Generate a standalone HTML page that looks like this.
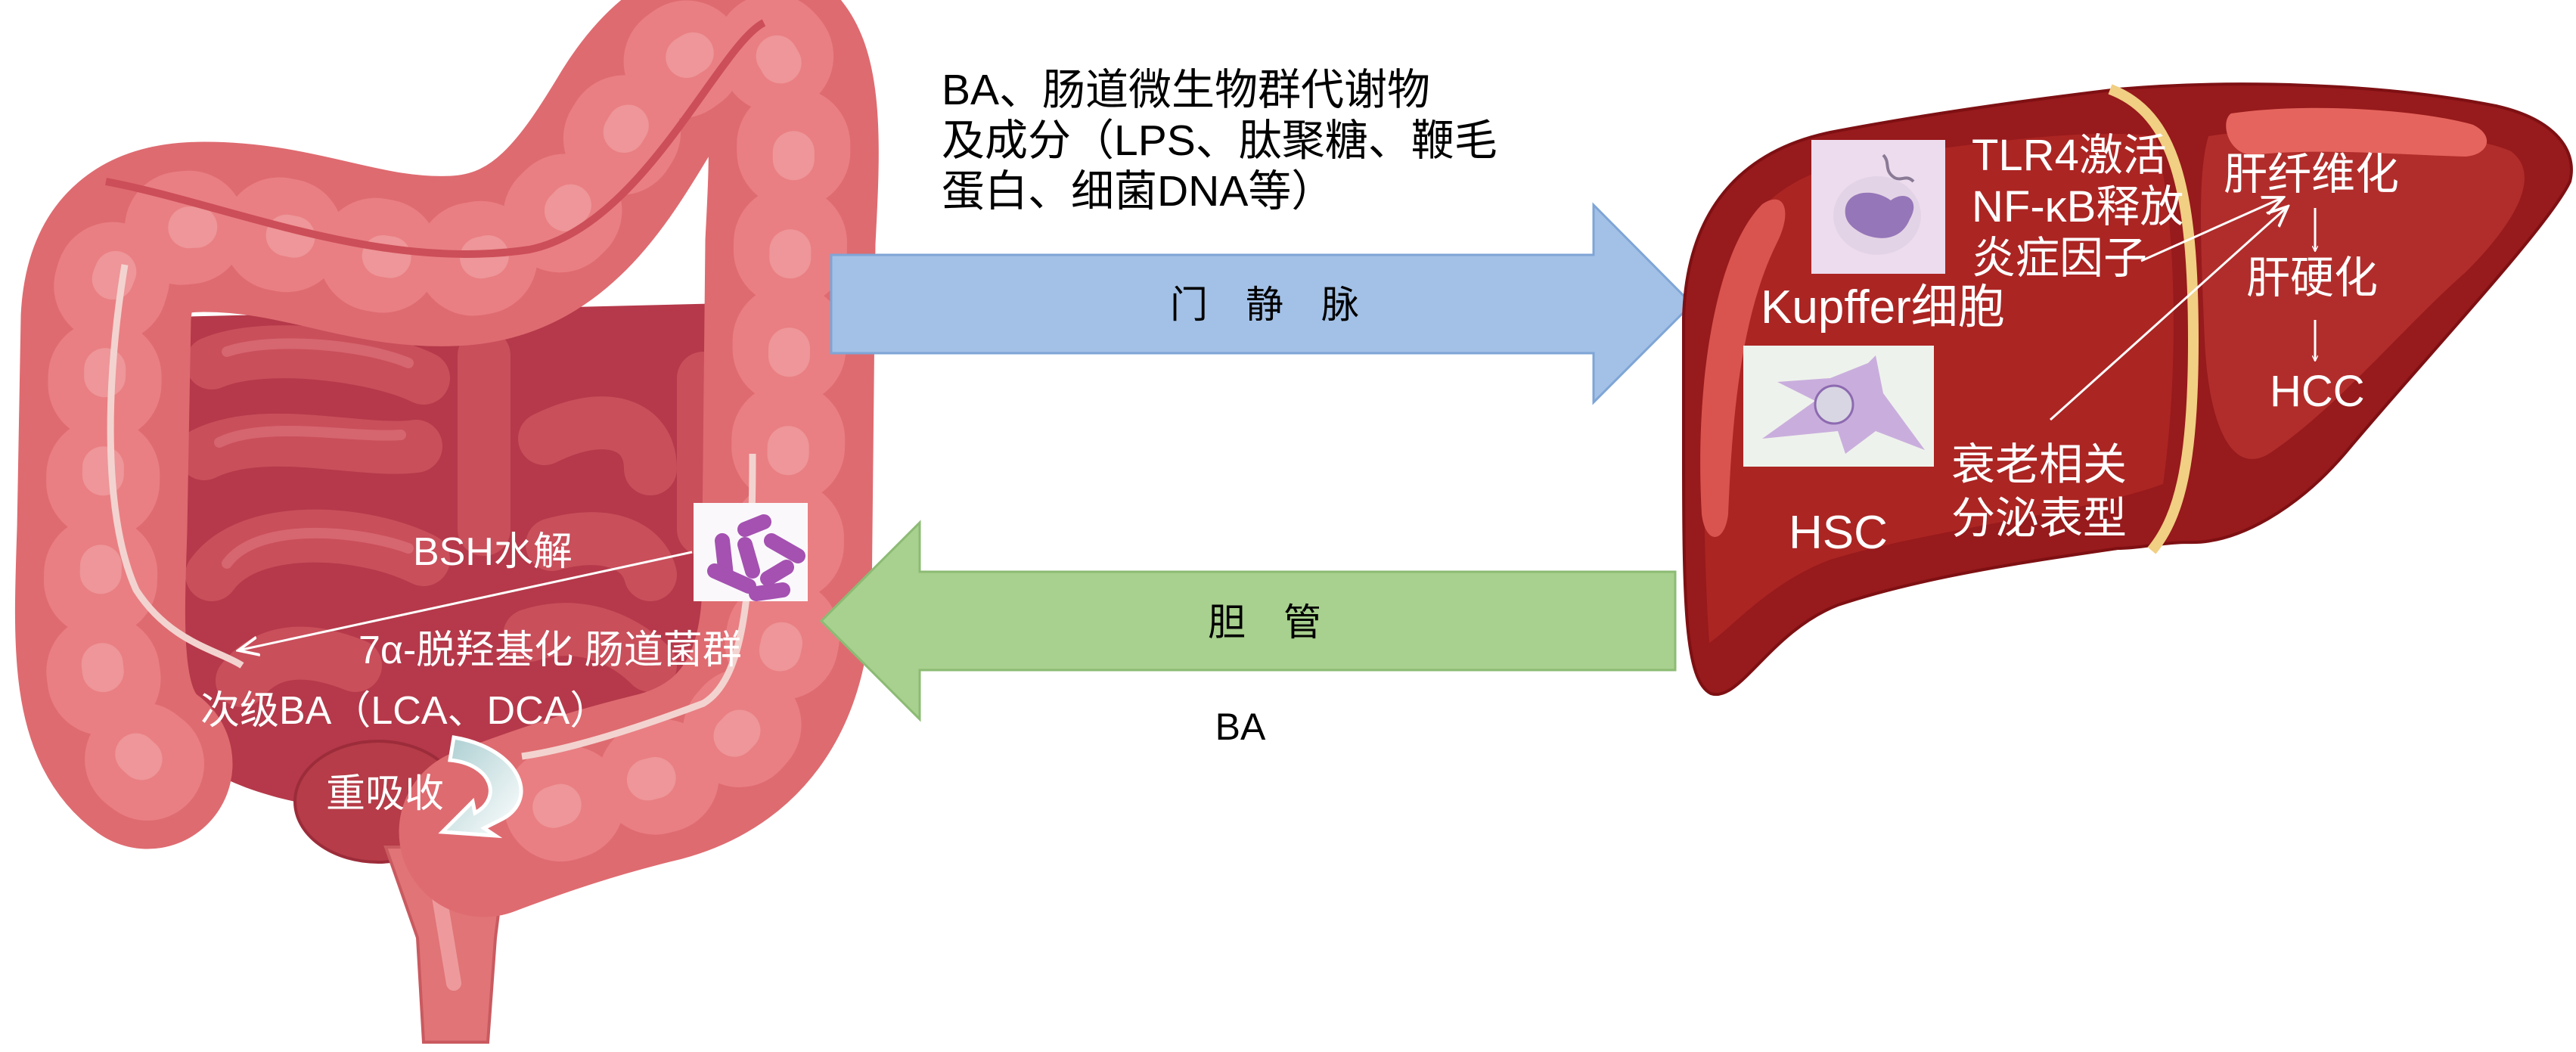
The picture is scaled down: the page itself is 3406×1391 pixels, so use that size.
<!DOCTYPE html>
<html><head><meta charset="utf-8">
<style>
html,body{margin:0;padding:0;background:#fff;}
svg{display:block;}
text{font-family:"Liberation Sans","Noto Sans CJK SC",sans-serif;}
</style></head>
<body>
<svg width="3406" height="1391" viewBox="0 0 3406 1391" xmlns="http://www.w3.org/2000/svg">
<defs>
<marker id="ah" viewBox="0 0 10 10" refX="9" refY="5" markerWidth="8" markerHeight="8" orient="auto-start-reverse" markerUnits="userSpaceOnUse">
<path d="M0,0 L10,5 L0,10" fill="none" stroke="#fff" stroke-width="1.6"/>
</marker>
<marker id="ah2" viewBox="0 0 20 20" refX="18" refY="10" markerWidth="30" markerHeight="30" orient="auto" markerUnits="userSpaceOnUse">
<path d="M0,2 L18,10 L0,18" fill="none" stroke="#fff" stroke-width="2.5"/>
</marker>
<linearGradient id="rg" x1="0" y1="0" x2="1" y2="1">
<stop offset="0" stop-color="#a9cdd0"/><stop offset="1" stop-color="#ffffff"/>
</linearGradient>
</defs>

<!-- ===== INTESTINE ===== -->
<path d="M190 420 L1000 400 L1010 1000 C900 1080 700 1110 600 1130 C480 1150 400 1120 390 1060 C300 1040 210 1000 190 900 Z" fill="#b5394a"/>
<ellipse cx="500" cy="1060" rx="110" ry="80" fill="#b53c48" stroke="#9c2c3a" stroke-width="4"/>
<g fill="none" stroke="#c94f5b" stroke-width="70" stroke-linecap="round">
<path d="M280 480 C350 450 500 470 560 500"/>
<path d="M270 600 C350 560 480 600 550 590"/>
<path d="M280 760 C330 690 480 700 560 740"/>
<path d="M720 580 C800 540 860 560 860 620"/>
<path d="M730 720 C800 700 850 720 860 760"/>
<path d="M930 500 L930 700"/>
<path d="M640 470 L640 700"/>
<path d="M320 900 C360 850 420 860 470 880"/>
<path d="M700 840 C760 820 820 840 860 880"/>
</g>
<g fill="none" stroke="#d96b74" stroke-width="14" stroke-linecap="round" opacity="0.8">
<path d="M300 465 C360 445 480 455 540 480"/>
<path d="M290 585 C350 555 470 580 530 575"/>
<path d="M300 745 C340 690 470 700 540 725"/>
</g>
<!-- rectum -->
<path d="M510 1120 L670 1120 L655 1240 L645 1378 L560 1378 L552 1240 Z" fill="#e07476" stroke="#c95a60" stroke-width="4"/>
<path d="M575 1150 L600 1300" stroke="#ee9a9d" stroke-width="20" stroke-linecap="round"/>
<!-- colon -->
<g fill="none" stroke-linejoin="round">
<path id="colon" d="M195 1010 C125 960 130 850 135 700 L140 420 C145 330 190 300 270 300 C400 300 480 350 600 345 C720 340 780 250 840 150 C890 70 950 40 1010 60 C1060 80 1050 220 1045 320 L1040 800 C1030 950 950 1010 860 1030 C780 1050 720 1070 640 1100" stroke="#de6b70" stroke-width="225" stroke-linecap="round"/>
<path d="M195 1010 C125 960 130 850 135 700 L140 420 C145 330 190 300 270 300 C400 300 480 350 600 345 C720 340 780 250 840 150 C890 70 950 40 1010 60 C1060 80 1050 220 1045 320 L1040 800 C1030 950 950 1010 860 1030 C780 1050 720 1070 640 1100" stroke="#e97f83" stroke-width="150" stroke-dasharray="10 120" stroke-linecap="round"/>
<path d="M195 1010 C125 960 130 850 135 700 L140 420 C145 330 190 300 270 300 C400 300 480 350 600 345 C720 340 780 250 840 150 C890 70 950 40 1010 60 C1060 80 1050 220 1045 320 L1040 800 C1030 950 950 1010 860 1030 C780 1050 720 1070 640 1100" stroke="#f0a0a3" stroke-width="55" stroke-dasharray="10 120" stroke-dashoffset="-10" stroke-linecap="round" opacity="0.7"/>
</g>
<path d="M140 240 C300 270 500 360 700 330 C850 300 950 60 1010 30" fill="none" stroke="#cc4e58" stroke-width="10"/>
<path d="M165 350 C140 500 135 680 180 780 C225 850 290 860 320 880" fill="none" stroke="#f3d3cf" stroke-width="9"/>
<path d="M995 600 C995 800 980 900 930 930 C850 960 760 990 690 1000" fill="none" stroke="#f3d3cf" stroke-width="9"/>
<path d="M600 975 C690 990 715 1060 660 1085 L640 1095 L655 1105 L585 1100 L625 1060 L628 1075 C665 1055 650 1010 595 1005 Z" fill="url(#rg)" stroke="#ffffff" stroke-width="5"/>
<rect x="917" y="665" width="151" height="130" fill="#fbf8fb"/>
<g stroke="#9b3fa9" stroke-width="20" stroke-linecap="round" fill="none" opacity="0.9">
<path d="M955 715 L960 760"/>
<path d="M945 755 L990 775"/>
<path d="M985 700 L1010 690"/>
<path d="M985 720 L995 755"/>
<path d="M1020 715 L1055 735"/>
<path d="M1015 765 L1040 750"/>
<path d="M1000 785 L1035 780"/>
</g>
<line x1="915" y1="730" x2="315" y2="860" stroke="#fff" stroke-width="3" marker-end="url(#ah2)"/>
<g fill="#fff" font-size="52">
<text x="546" y="747">BSH水解</text>
<text x="474" y="877">7α-脱羟基化 肠道菌群</text>
<text x="265" y="957">次级BA（LCA、DCA）</text>
<text x="431" y="1067">重吸收</text>
</g>

<!-- ===== ARROWS ===== -->
<path d="M1099 337 L2107 337 L2107 271 L2237 402 L2107 532 L2107 467 L1099 467 Z" fill="#a3c1e6" stroke="#7fa5d6" stroke-width="3"/>
<text x="1672" y="420" font-size="50" text-anchor="middle" fill="#000">门　静　脉</text>
<path d="M2215 756 L1216 756 L1216 691 L1086 821 L1216 951 L1216 886 L2215 886 Z" fill="#a8d08e" stroke="#8cbb74" stroke-width="3"/>
<text x="1672" y="840" font-size="50" text-anchor="middle" fill="#000">胆　管</text>
<text x="1640" y="978" font-size="50" text-anchor="middle" fill="#000">BA</text>
<g fill="#000" font-size="57">
<text x="1245" y="138">BA、肠道微生物群代谢物</text>
<text x="1245" y="205">及成分（LPS、肽聚糖、鞭毛</text>
<text x="1245" y="272">蛋白、细菌DNA等）</text>
</g>

<!-- ===== LIVER ===== -->
<path d="M2262 917 C2228 900 2226 800 2226 600 L2226 420 C2230 280 2300 200 2420 175 C2550 150 2700 130 2800 118 C2950 105 3150 110 3300 140 C3380 158 3408 200 3398 240 C3370 300 3200 480 3100 600 C3040 670 2960 720 2892 717 C2860 717 2830 725 2800 725 C2700 740 2550 760 2430 800 C2340 835 2300 930 2262 917 Z" fill="#971a1c" stroke="#7e1013" stroke-width="4"/>
<path d="M2260 850 C2250 700 2250 500 2270 400 C2300 260 2380 220 2500 205 C2650 185 2760 170 2850 180 C2880 300 2880 500 2860 640 C2750 680 2550 700 2420 740 C2340 770 2290 830 2260 850 Z" fill="#ab2523"/>
<path d="M2920 180 C3050 160 3250 170 3320 200 C3360 230 3330 290 3260 360 C3180 430 3090 540 3000 600 C2950 630 2920 560 2915 450 C2910 330 2905 230 2920 180 Z" fill="#b12d2b"/>
<path d="M2250 680 C2240 500 2270 330 2330 270 C2360 250 2370 280 2350 320 C2300 420 2290 560 2285 680 C2280 720 2255 720 2250 680 Z" fill="#d9544f"/>
<path d="M2950 150 C3050 135 3200 145 3270 165 C3300 180 3290 205 3260 207 C3180 205 3060 195 2980 205 C2945 205 2935 160 2950 150 Z" fill="#e5645d"/>
<path d="M2790 118 C2875 150 2900 250 2900 450 C2900 600 2885 680 2845 728" fill="none" stroke="#f1cf83" stroke-width="14"/>
<rect x="2395" y="185" width="177" height="177" fill="#ecdcee"/>
<ellipse cx="2482" cy="285" rx="58" ry="52" fill="#e3d3e6"/>
<path d="M2440 275 C2445 250 2480 250 2500 265 C2520 250 2540 265 2525 290 C2515 315 2490 320 2465 310 C2445 300 2438 290 2440 275 Z" fill="#9576b8"/>
<path d="M2490 205 C2500 215 2490 225 2505 235 C2515 240 2520 230 2530 240" fill="none" stroke="#8a7a95" stroke-width="4"/>
<rect x="2305" y="457" width="252" height="160" fill="#eef2ec"/>
<path d="M2330 580 L2400 530 L2350 505 L2420 500 L2470 480 L2480 470 L2490 520 L2545 595 L2480 570 L2440 600 L2430 570 Z" fill="#c4a6dc" opacity="0.9"/>
<circle cx="2425" cy="535" r="25" fill="#d8d6e3" stroke="#8d6ab0" stroke-width="3"/>
<g fill="#fff" font-size="58">
<text x="2607" y="225">TLR4激活</text>
<text x="2607" y="293">NF-κB释放</text>
<text x="2607" y="361">炎症因子</text>
<text x="2328" y="427" font-size="62">Kupffer细胞</text>
<text x="2365" y="725" font-size="62">HSC</text>
<text x="2580" y="634">衰老相关</text>
<text x="2580" y="705">分泌表型</text>
<text x="2940" y="250">肝纤维化</text>
<text x="2970" y="387">肝硬化</text>
<text x="3001" y="537">HCC</text>
</g>
<line x1="2831" y1="345" x2="3019" y2="261" stroke="#fff" stroke-width="3" marker-end="url(#ah2)"/>
<line x1="2711" y1="555" x2="3025" y2="273" stroke="#fff" stroke-width="3" marker-end="url(#ah2)"/>
<line x1="3061" y1="275" x2="3061" y2="332" stroke="#fff" stroke-width="3" marker-end="url(#ah)"/>
<line x1="3061" y1="423" x2="3061" y2="477" stroke="#fff" stroke-width="3" marker-end="url(#ah)"/>
</svg>
</body></html>
